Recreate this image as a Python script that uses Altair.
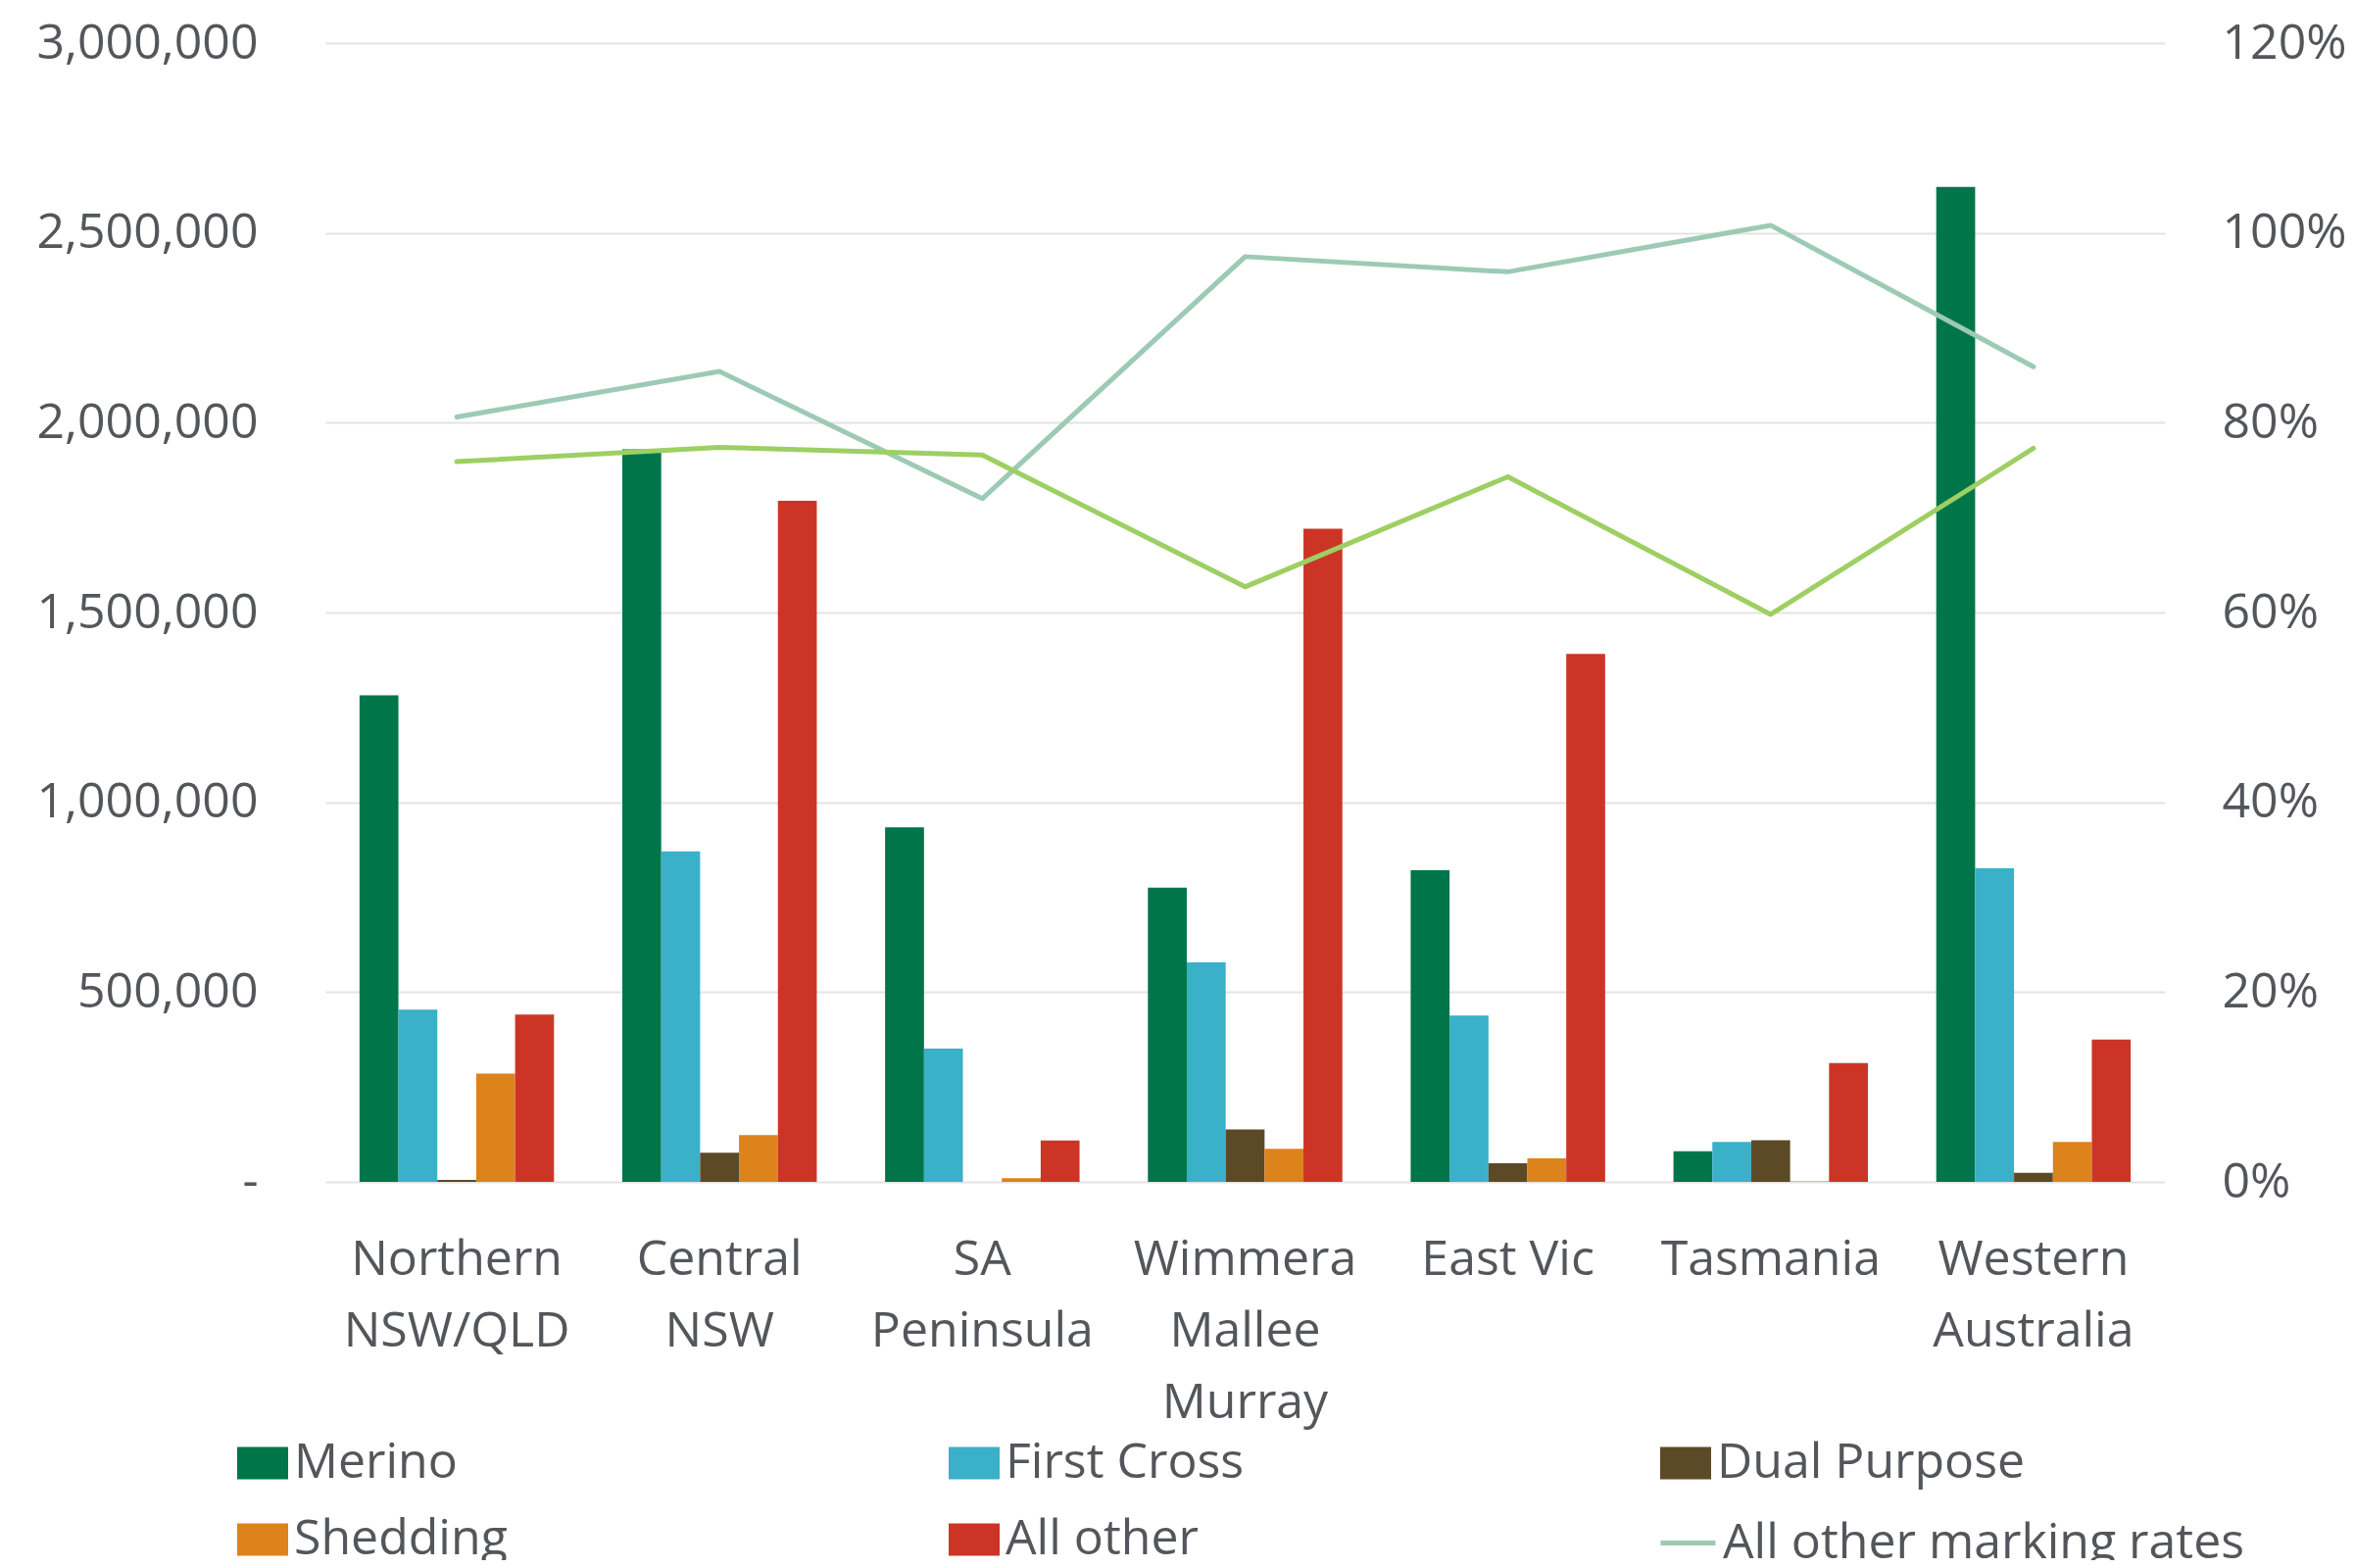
import altair as alt
import pandas as pd

categories = ["Northern NSW/QLD", "Central NSW", "SA Peninsula", "Wimmera Mallee Murray",
              "East Vic", "Tasmania", "Western Australia"]
label_lines = {
    "Northern NSW/QLD": ["Northern", "NSW/QLD"],
    "Central NSW": ["Central", "NSW"],
    "SA Peninsula": ["SA", "Peninsula"],
    "Wimmera Mallee Murray": ["Wimmera", "Mallee", "Murray"],
    "East Vic": ["East Vic"],
    "Tasmania": ["Tasmania"],
    "Western Australia": ["Western", "Australia"],
}

breeds = ["Merino", "First Cross", "Dual Purpose", "Shedding", "All other"]
breed_colors = {"Merino": "#00754A", "First Cross": "#3AB0C9", "Dual Purpose": "#5C4A27",
                "Shedding": "#DD831C", "All other": "#CC3526"}
# legend fills column by column: this order gives rows Merino/First Cross/Dual Purpose, Shedding/All other
legend_order = ["Merino", "Shedding", "First Cross", "All other", "Dual Purpose"]

merino = [1282000, 1930000, 934000, 775000, 821000, 81000, 2621000]
first_cross = [454000, 871000, 351000, 578000, 438000, 105000, 826000]
dual_purpose = [5000, 77000, 0, 138000, 49000, 110000, 24000]
shedding = [285000, 123000, 10000, 87000, 62000, 1000, 105000]
all_other = [441000, 1794000, 109000, 1721000, 1391000, 313000, 375000]

rate_series = ["All other marking rates", "Merino marking rates"]
rate_colors = ["#9CCAB5", "#9DCF63"]
all_other_rate = [0.806, 0.854, 0.720, 0.975, 0.959, 1.008, 0.859]
merino_rate = [0.759, 0.774, 0.766, 0.627, 0.743, 0.598, 0.773]

y_ticks = [0, 500000, 1000000, 1500000, 2000000, 2500000, 3000000]
pct_ticks = [0, 0.2, 0.4, 0.6, 0.8, 1.0, 1.2]

FONT = "Open Sans"
TXT = "#53565A"

rows = []
for b, vals in zip(breeds, [merino, first_cross, dual_purpose, shedding, all_other]):
    for c, v in zip(categories, vals):
        rows.append({"region": c, "breed": b, "count": v})
df_bars = pd.DataFrame(rows)

lrows = []
for s, vals in zip(rate_series, [all_other_rate, merino_rate]):
    for c, v in zip(categories, vals):
        lrows.append({"region": c, "series": s, "rate": v})
df_lines = pd.DataFrame(lrows)

expr = "''"
for k, v in reversed(list(label_lines.items())):
    arr = "[" + ",".join("'" + p + "'" for p in v) + "]"
    expr = f"datum.label == '{k}' ? {arr} : ({expr})"

x_enc = alt.X("region:N", sort=categories,
              scale=alt.Scale(paddingInner=0.26, paddingOuter=0.13),
              axis=alt.Axis(title=None, labelAngle=0, ticks=False, domain=False, grid=False,
                            labelExpr=expr, labelFont=FONT, labelFontSize=50, labelColor=TXT,
                            labelPadding=54, labelLineHeight=73, labelLimit=600))

bars = alt.Chart(df_bars).mark_bar().encode(
    x=x_enc,
    xOffset=alt.XOffset("breed:N", sort=breeds, scale=alt.Scale(paddingInner=0, paddingOuter=0)),
    y=alt.Y("count:Q", scale=alt.Scale(domain=[0, 3000000], nice=False),
            axis=alt.Axis(title=None, values=y_ticks, grid=True, gridColor="#E3E3E3", gridWidth=2,
                          ticks=False, domain=False, labelFont=FONT, labelFontSize=50,
                          labelColor=TXT, labelPadding=69, labelLimit=600,
                          labelExpr="datum.value == 0 ? '-' : format(datum.value, ',')")),
    color=alt.Color("breed:N",
                    scale=alt.Scale(domain=legend_order,
                                    range=[breed_colors[b] for b in legend_order]),
                    legend=alt.Legend(title=None, orient="none", legendX=-90, legendY=1423,
                                      columns=3, gridAlign="all", columnPadding=353, rowPadding=27,
                                      symbolType="M-1,-0.635H1V0.635H-1Z", symbolSize=2704,
                                      symbolStrokeWidth=0, labelOffset=6, labelFont=FONT,
                                      labelFontSize=50, labelColor=TXT, labelLimit=800, padding=0)),
)

lines = alt.Chart(df_lines).mark_line(strokeWidth=5, strokeCap="round", strokeJoin="round").encode(
    x=alt.X("region:N", sort=categories),
    y=alt.Y("rate:Q", scale=alt.Scale(domain=[0, 1.2], nice=False),
            axis=alt.Axis(title=None, orient="right", values=pct_ticks, format=".0%", grid=False,
                          ticks=False, domain=False, labelFont=FONT, labelFontSize=50,
                          labelColor=TXT, labelPadding=58)),
    stroke=alt.Stroke("series:N", scale=alt.Scale(domain=rate_series, range=rate_colors),
                      legend=alt.Legend(title=None, orient="none", legendX=1360, legendY=1500,
                                        values=["All other marking rates"], symbolType="stroke",
                                        symbolSize=3136, symbolStrokeWidth=5, labelOffset=5,
                                        labelFont=FONT, labelFontSize=50, labelColor=TXT,
                                        labelLimit=800, padding=0)),
)

chart = alt.layer(bars, lines).resolve_scale(y="independent").properties(
    width=1877, height=1162,
    autosize=alt.AutoSizeParams(type="none"),
    padding={"left": 324, "top": 36, "right": 186, "bottom": 386},
    background="white",
).configure_view(stroke=None)

chart.save("out.html", embed_options={"renderer": "svg", "actions": False})
